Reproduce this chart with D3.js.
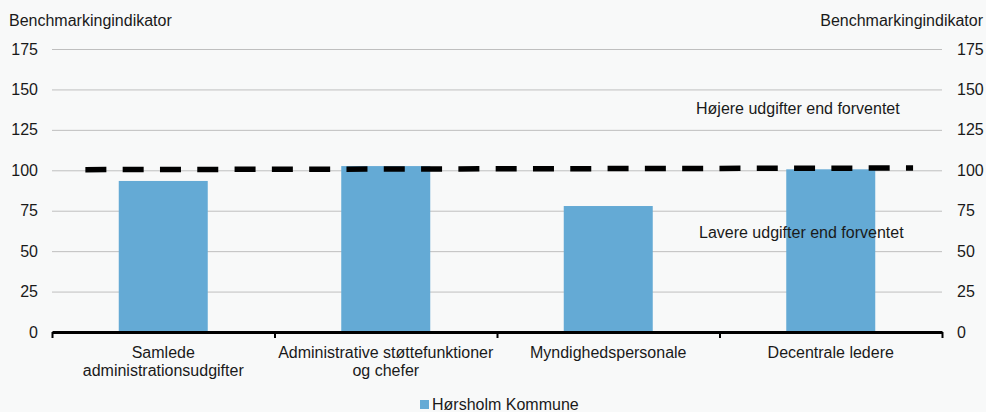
<!DOCTYPE html>
<html>
<head>
<meta charset="utf-8">
<script src="https://cdn.jsdelivr.net/npm/d3@7"></script>
<style>
  body { margin: 0; background: #f8f9f9; }
  svg { display: block; font-family: "Liberation Sans", Arial, sans-serif; }
  text { fill: #1a1a1a; }
</style>
</head>
<body>
<svg id="drawing_region"></svg>
<script>
// data
const categories = [
    ["Samlede", "administrationsudgifter"],
    ["Administrative støttefunktioner", "og chefer"],
    ["Myndighedspersonale"],
    ["Decentrale ledere"]
];
const values = [93.4, 102.6, 77.9, 100.6];
const yTicks = [0, 25, 50, 75, 100, 125, 150, 175];
// reference line (position along category index, value)
const refX = [0.15, 3.87];
const refY = [100.4, 101.4];
const seriesName = "Hørsholm Kommune";
const axisTitle = "Benchmarkingindikator";
const upperNote = "Højere udgifter end forventet";
const lowerNote = "Lavere udgifter end forventet";

const config = {
    width: 986,
    height: 412,
    left: 52,
    right: 942,
    top: 49,
    bottom: 332,
    barColor: "#64aad5",
    gridColor: "#bfbfbf"
};

const svg = d3.select("#drawing_region")
    .attr("width", config.width)
    .attr("height", config.height);

const x = d3.scaleBand()
    .domain(d3.range(categories.length))
    .range([config.left, config.right])
    .paddingInner(0.6)
    .paddingOuter(0.3);

const xIdx = d3.scaleLinear()
    .domain([0, categories.length])
    .range([config.left, config.right]);

const y = d3.scaleLinear()
    .domain([0, 175])
    .range([config.bottom, config.top]);

// gridlines
svg.append("g")
    .attr("transform", `translate(${config.left},0)`)
    .call(d3.axisLeft(y).tickValues(yTicks.slice(1)).tickSize(-(config.right - config.left)).tickFormat(""))
    .call(g => g.select(".domain").remove())
    .call(g => g.selectAll("line").attr("stroke", config.gridColor));

// left axis labels
svg.append("g")
    .attr("transform", `translate(${config.left},0)`)
    .call(d3.axisLeft(y).tickValues(yTicks).tickSize(0).tickPadding(14))
    .call(g => g.select(".domain").remove())
    .call(g => g.selectAll("text").attr("font-size", 16).attr("font-family", null).attr("fill", "#1a1a1a"));

// right axis labels
svg.append("g")
    .attr("transform", `translate(${config.right},0)`)
    .call(d3.axisRight(y).tickValues(yTicks).tickSize(0).tickPadding(15))
    .call(g => g.select(".domain").remove())
    .call(g => g.selectAll("text").attr("font-size", 16).attr("font-family", null).attr("fill", "#1a1a1a"));

// bars
svg.selectAll(".bar")
    .data(values)
    .enter()
    .append("rect")
    .attr("class", "bar")
    .attr("x", (d, i) => x(i))
    .attr("width", x.bandwidth())
    .attr("y", d => y(d))
    .attr("height", d => y(0) - y(d))
    .attr("fill", config.barColor);

// x axis
svg.append("g")
    .attr("transform", `translate(0,${y(0)})`)
    .call(d3.axisBottom(xIdx).tickValues(d3.range(categories.length + 1)).tickSize(6).tickSizeOuter(0).tickFormat(""))
    .call(g => g.select(".domain").attr("stroke", "#000").attr("stroke-width", 3))
    .call(g => g.selectAll(".tick line").attr("stroke", "#000").attr("stroke-width", 2));

// reference line
const line = d3.line()
    .x(d => xIdx(d[0]))
    .y(d => y(d[1]));

svg.append("path")
    .datum(d3.zip(refX, refY))
    .attr("d", line)
    .attr("fill", "none")
    .attr("stroke", "#000")
    .attr("stroke-width", 5.5)
    .attr("stroke-dasharray", "21,16.3");

// category labels
const labels = svg.selectAll(".cat")
    .data(categories)
    .enter()
    .append("text")
    .attr("class", "cat")
    .attr("text-anchor", "middle")
    .attr("font-size", 16)
    .attr("y", 357.5);

labels.selectAll("tspan")
    .data((d, i) => d.map(t => ({ t: t, i: i })))
    .enter()
    .append("tspan")
    .attr("x", d => x(d.i) + x.bandwidth() / 2)
    .attr("dy", (d, j) => j === 0 ? 0 : 18.4)
    .text(d => d.t);

// axis titles
svg.append("text")
    .attr("x", 9)
    .attr("y", 25.5)
    .attr("font-size", 16)
    .text(axisTitle);

svg.append("text")
    .attr("x", 983)
    .attr("y", 25.5)
    .attr("text-anchor", "end")
    .attr("font-size", 16)
    .text(axisTitle);

// notes
svg.append("text")
    .attr("x", 696)
    .attr("y", 114.3)
    .attr("font-size", 16)
    .text(upperNote);

svg.append("text")
    .attr("x", 699)
    .attr("y", 238.3)
    .attr("font-size", 16)
    .text(lowerNote);

// legend
const legend = svg.append("g")
    .attr("transform", "translate(420,400)");

legend.append("rect")
    .attr("width", 9)
    .attr("height", 9)
    .attr("fill", config.barColor);

legend.append("text")
    .attr("x", 12)
    .attr("y", 9.5)
    .attr("font-size", 16)
    .text(seriesName);
</script>
</body>
</html>
